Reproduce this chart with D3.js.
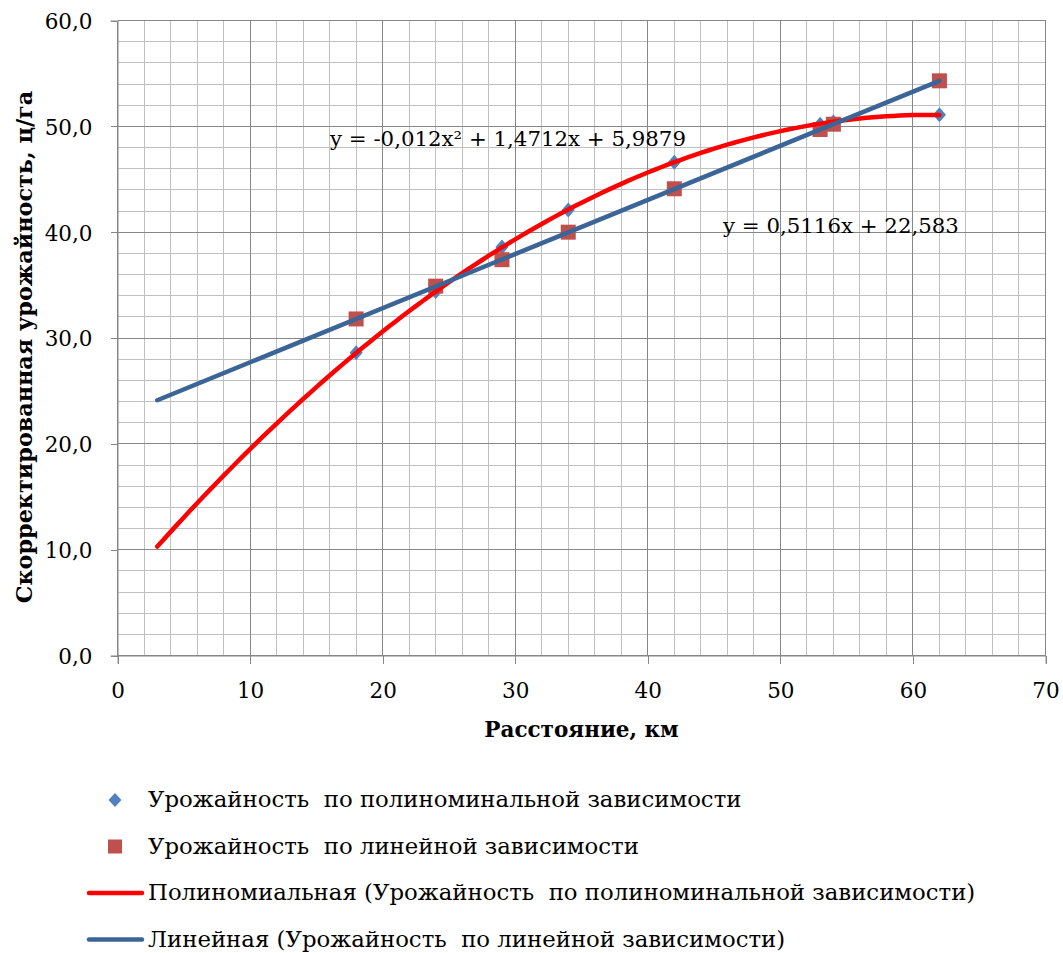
<!DOCTYPE html>
<html>
<head>
<meta charset="utf-8">
<script src="https://cdn.jsdelivr.net/npm/d3@7"></script>
<style>
  body { margin: 0; background: #fff; }
  svg text { font-family: "DejaVu Serif", serif; fill: #000; white-space: pre; }
</style>
</head>
<body>
<svg id="chart"></svg>
<script>
"use strict";

// =================== DATA ===================
const distances = [18, 24, 29, 34, 42, 53, 54, 62];
const polyYield = [28.6, 34.4, 38.6, 42.1, 46.6, 50.2, 50.4, 51.1];
const linYield = [31.8, 34.9, 37.4, 40.0, 44.1, 49.7, 50.2, 54.3];

// trendline coefficients as printed on the chart (highest power first)
const polyCoef = [-0.012, 1.4712, 5.9879];
const linCoef = [0.5116, 22.583];
const trendRange = [3, 62];

const polyLabel = "y = -0,012x² + 1,4712x + 5,9879";
const linLabel = "y = 0,5116x + 22,583";

const xTicks = [0, 10, 20, 30, 40, 50, 60, 70];
const yTicks = [0, 10, 20, 30, 40, 50, 60];

const legendItems = [
  { type: "diamond", label: "Урожайность  по полиноминальной зависимости" },
  { type: "square", label: "Урожайность  по линейной зависимости" },
  { type: "polyLine", label: "Полиномиальная (Урожайность  по полиноминальной зависимости)" },
  { type: "linLine", label: "Линейная (Урожайность  по линейной зависимости)" }
];

// =================== SETUP ===================
const svgWidth = 1063, svgHeight = 953;
const svg = d3.select("#chart").attr("width", svgWidth).attr("height", svgHeight);

const x = d3.scaleLinear().domain([0, 70]).range([117.5, 1045.5]);
const y = d3.scaleLinear().domain([0, 60]).range([655.5, 20.5]);

const diamondColor = "#4F81BD";
const squareColor = "#C0504D";
const redColor = "#FF0000";
const blueColor = "#3B6597";
const gridMinor = "#C0C0C0";
const gridMajor = "#878787";

// slightly tall diamond, like the Excel marker
const diamondPath = (w, h) => `M0,${-h / 2}L${w / 2},0L0,${h / 2}L${-w / 2},0Z`;

// =================== GRID ===================
const grid = svg.append("g").attr("shape-rendering", "crispEdges");
grid.selectAll("line.vminor")
  .data(d3.range(0, 71, 2).filter(v => v % 10 !== 0))
  .enter().append("line")
  .attr("x1", d => x(d)).attr("x2", d => x(d))
  .attr("y1", y(0)).attr("y2", y(60))
  .attr("stroke", gridMinor);
grid.selectAll("line.hminor")
  .data(d3.range(0, 61, 2).filter(v => v % 10 !== 0))
  .enter().append("line")
  .attr("x1", x(0)).attr("x2", x(70))
  .attr("y1", d => y(d)).attr("y2", d => y(d))
  .attr("stroke", gridMinor);
grid.selectAll("line.vmajor")
  .data(xTicks)
  .enter().append("line")
  .attr("x1", d => x(d)).attr("x2", d => x(d))
  .attr("y1", y(0)).attr("y2", y(60))
  .attr("stroke", gridMajor);
grid.selectAll("line.hmajor")
  .data(yTicks)
  .enter().append("line")
  .attr("x1", x(0)).attr("x2", x(70))
  .attr("y1", d => y(d)).attr("y2", d => y(d))
  .attr("stroke", gridMajor);

// =================== AXES ===================
const xAxis = d3.axisBottom(x).tickValues(xTicks).tickSize(8).tickPadding(19)
  .tickFormat(d => String(d));
const yAxis = d3.axisLeft(y).tickValues(yTicks).tickSize(7).tickPadding(18)
  .tickFormat(d => d.toFixed(1).replace(".", ","));

const gx = svg.append("g").attr("transform", `translate(0,${y(0)})`).call(xAxis);
const gy = svg.append("g").attr("transform", `translate(${x(0)},0)`).call(yAxis);
[gx, gy].forEach(g => {
  g.select(".domain").attr("stroke", gridMajor);
  g.selectAll(".tick line").attr("stroke", gridMajor).attr("shape-rendering", "crispEdges");
  g.selectAll(".tick text").attr("font-family", "DejaVu Serif").attr("font-size", 21.5).attr("fill", "#000");
});
gy.selectAll(".tick text").attr("dy", "0.37em");

// =================== MARKERS ===================
svg.append("g").selectAll("path")
  .data(distances)
  .enter().append("path")
  .attr("d", diamondPath(13, 15))
  .attr("transform", (d, i) => `translate(${x(d)},${y(polyYield[i])})`)
  .attr("fill", diamondColor);

const sq = 15;
svg.append("g").selectAll("rect")
  .data(distances)
  .enter().append("rect")
  .attr("x", d => x(d) - sq / 2)
  .attr("y", (d, i) => y(linYield[i]) - sq / 2)
  .attr("width", sq).attr("height", sq)
  .attr("fill", squareColor);

// =================== TRENDLINES ===================
const evalPoly = (c, v) => c.reduce((acc, k) => acc * v + k, 0);
const samples = d3.range(trendRange[0], trendRange[1] + 0.001, 0.5);
const line = d3.line().x(d => x(d[0])).y(d => y(d[1]));

svg.append("path")
  .attr("d", line(samples.map(v => [v, evalPoly(polyCoef, v)])))
  .attr("fill", "none").attr("stroke", redColor)
  .attr("stroke-width", 4.5).attr("stroke-linecap", "round");

svg.append("path")
  .attr("d", line(trendRange.map(v => [v, evalPoly(linCoef, v)])))
  .attr("fill", "none").attr("stroke", blueColor)
  .attr("stroke-width", 4.5).attr("stroke-linecap", "round");

// =================== EQUATIONS ===================
svg.append("text").attr("x", 330).attr("y", 146).attr("font-size", 21.3).text(polyLabel);
svg.append("text").attr("x", 723).attr("y", 233).attr("font-size", 21.3).text(linLabel);

// =================== TITLES ===================
svg.append("text")
  .attr("x", (x(0) + x(70)) / 2).attr("y", 737)
  .attr("text-anchor", "middle").attr("font-weight", "bold").attr("font-size", 21.5)
  .text("Расстояние, км");

svg.append("text")
  .attr("transform", "translate(32,347) rotate(-90)")
  .attr("text-anchor", "middle").attr("font-weight", "bold").attr("font-size", 22.3)
  .text("Скорректированная урожайность, ц/га");

// =================== LEGEND ===================
const legend = svg.append("g");
legendItems.forEach((item, i) => {
  const cy = 800 + i * 46.5;
  if (item.type === "diamond") {
    legend.append("path").attr("d", diamondPath(13, 14))
      .attr("transform", `translate(115,${cy})`).attr("fill", diamondColor);
  } else if (item.type === "square") {
    legend.append("rect").attr("x", 108).attr("y", cy - 7).attr("width", 14).attr("height", 14)
      .attr("fill", squareColor);
  } else {
    legend.append("line").attr("x1", 89).attr("x2", 142).attr("y1", cy).attr("y2", cy)
      .attr("stroke", item.type === "polyLine" ? redColor : blueColor)
      .attr("stroke-width", 4.5).attr("stroke-linecap", "round");
  }
  legend.append("text").attr("x", 148).attr("y", cy + 7).attr("font-size", 22.8).text(item.label);
});
</script>
</body>
</html>
